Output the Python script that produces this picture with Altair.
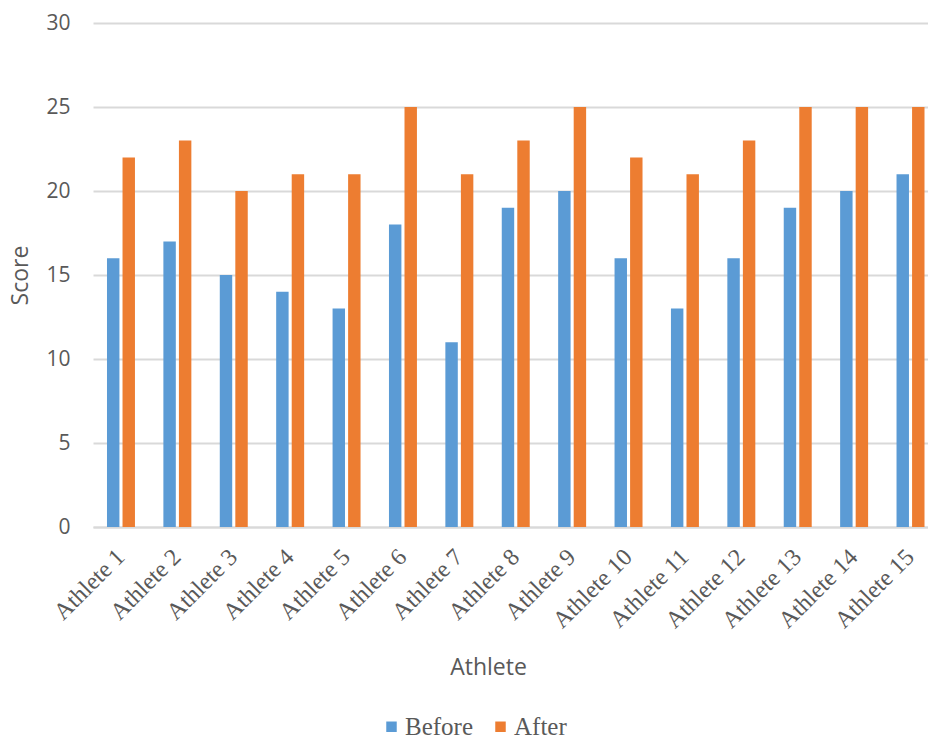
import altair as alt
import pandas as pd

# Scores per athlete, before and after the programme
athletes = [f"Athlete {i}" for i in range(1, 16)]
before_scores = [16, 17, 15, 14, 13, 18, 11, 19, 20, 16, 13, 16, 19, 20, 21]
after_scores = [22, 23, 20, 21, 21, 25, 21, 23, 25, 22, 21, 23, 25, 25, 25]
periods = ["Before", "After"]
period_colors = ["#5B9BD5", "#ED7D31"]
y_ticks = [0, 5, 10, 15, 20, 25, 30]

rows = []
for name, b, a in zip(athletes, before_scores, after_scores):
    rows.append({"Athlete": name, "Period": "Before", "Score": b})
    rows.append({"Athlete": name, "Period": "After", "Score": a})
df = pd.DataFrame(rows)

GREY = "#595959"
GRID = "#d9d9d9"
SANS = "Open Sans"
SERIF = "Liberation Serif"

chart = (
    alt.Chart(df)
    .mark_bar()
    .encode(
        x=alt.X(
            "Athlete:N",
            sort=athletes,
            scale=alt.Scale(paddingInner=0.504, paddingOuter=0.155, align=0.8),
            axis=alt.Axis(
                title="Athlete",
                titleFont=SANS,
                titleFontSize=23,
                titleFontWeight="normal",
                titleColor=GREY,
                titleX=395,
                titleY=140,
                titleAlign="center",
                titleBaseline="middle",
                labelFont=SERIF,
                labelFontSize=24,
                labelColor=GREY,
                labelAngle=315,
                labelAlign="right",
                labelBaseline="middle",
                labelPadding=26,
                ticks=False,
                tickSize=0,
                domainColor=GRID,
                domainWidth=2,
                grid=False,
            ),
        ),
        xOffset=alt.XOffset(
            "Period:N", sort=periods, scale=alt.Scale(paddingInner=0.2, paddingOuter=0)
        ),
        y=alt.Y(
            "Score:Q",
            scale=alt.Scale(domain=[0, 30], nice=False),
            axis=alt.Axis(
                title="Score",
                values=y_ticks,
                titleFont=SANS,
                titleFontSize=23,
                titleFontWeight="normal",
                titleColor=GREY,
                titleX=-73,
                titleBaseline="middle",
                labelFont=SANS,
                labelFontSize=21,
                labelColor=GREY,
                labelPadding=23,
                ticks=False,
                tickSize=0,
                domain=False,
                grid=True,
                gridColor=GRID,
                gridWidth=2,
            ),
        ),
        color=alt.Color(
            "Period:N",
            sort=periods,
            scale=alt.Scale(domain=periods, range=period_colors),
            legend=alt.Legend(
                title=None,
                orient="none",
                legendX=286,
                legendY=691,
                direction="horizontal",
                symbolType="square",
                symbolSize=110,
                symbolStrokeWidth=0,
                symbolOffset=0,
                labelFont=SERIF,
                labelFontSize=25,
                labelColor=GREY,
                labelOffset=1,
                columnPadding=14,
                padding=0,
            ),
        ),
    )
    .properties(
        width=835,
        height=504,
        autosize=alt.AutoSizeParams(type="none"),
        padding={"left": 93, "top": 23, "right": 0, "bottom": 215},
        background="white",
    )
    .configure_view(stroke=None)
)

chart.save("out.html", embed_options={"renderer": "svg", "actions": False})
